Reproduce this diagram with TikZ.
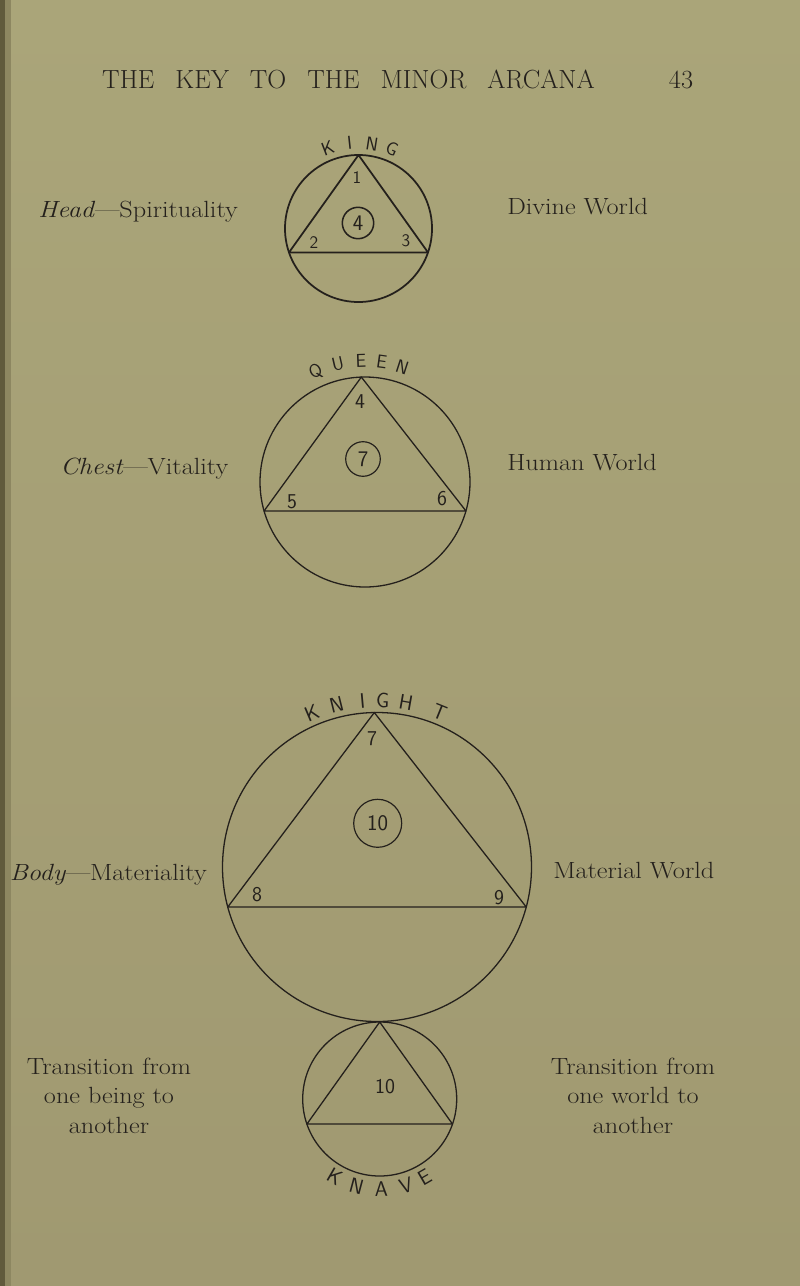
\documentclass[tikz,border=0pt]{standalone}
\usetikzlibrary{calc}
\definecolor{paper}{RGB}{170,165,121}
\definecolor{paperlow}{RGB}{160,153,113}
\definecolor{ink}{RGB}{36,32,28}
\definecolor{spine}{RGB}{96,90,60}
\tikzset{
  disc/.style={circle, draw=ink, line width=1.1pt, inner sep=0pt, outer sep=0pt, minimum size=#1*0.6mm},
  ring/.style={circle, draw=ink, line width=1pt, inner sep=0pt, minimum size=#1*0.6mm, text=ink, font=\sffamily\fontsize{19}{19}\selectfont},
  hand/.style={text=ink, inner sep=0pt, font=\sffamily\fontsize{18}{18}\selectfont},
  txt/.style={text=ink, inner sep=0pt, font=\fontsize{20}{25}\selectfont, xscale=1.12},
  runhead/.style={text=ink, inner sep=0pt, font=\fontsize{22.4}{24}\selectfont},
  tri/.style={draw=ink, line width=1.1pt, line join=round}
}
\begin{document}
\begin{tikzpicture}[x=0.3mm, y=0.3mm]
\useasboundingbox (0,0) rectangle (800,-1286);
\shade[top color=paper, bottom color=paperlow] (0,0) rectangle (800,-1286);
\fill[spine] (0,0) rectangle (5,-1286);
\fill[spine!40!paper] (5,0) rectangle (11,-1286);

\node[runhead, anchor=base west] (title) at (102,-88)
  {THE\hspace{0.8em}KEY\hspace{0.8em}TO\hspace{0.8em}THE\hspace{0.8em}MINOR\hspace{0.8em}ARCANA};
\node[runhead, anchor=base] (folio) at (681,-88) {43};

% king
\node[disc=73.5, line width=1.5pt] (king) at (358.5,-228.5) {};
\draw[tri, line width=1.5pt] (king.90) -- (king.199.5) -- (king.-19.5) -- cycle;
\node[ring=15.7, line width=1.3pt] (kingsum) at (358,-223) {4};
\node[hand, font=\sffamily\fontsize{15}{15}\selectfont] (king1) at (357,-178) {1};
\node[hand, font=\sffamily\fontsize{15}{15}\selectfont] (king2) at (314,-243) {2};
\node[hand, font=\sffamily\fontsize{15}{15}\selectfont] (king3) at (406,-241) {3};
\foreach \ch/\a [count=\i] in {K/111,I/96,N/81,G/67}
  \node[hand, font=\sffamily\fontsize{16}{16}\selectfont, rotate=\a-90] (kingl\i) at ($(king)+(\a:86)$) {\ch};

% queen
\node[disc=105] (queen) at (365,-482) {};
\draw[tri] (queen.92) -- (queen.196) -- (queen.-16) -- cycle;
\node[ring=17.3] (queensum) at (363,-459) {7};
\node[hand] (queen4) at (360,-402) {4};
\node[hand] (queen5) at (292,-502) {5};
\node[hand] (queen6) at (442,-499) {6};
\foreach \ch/\a [count=\i] in {Q/114,U/103,E/92,E/82,N/72}
  \node[hand, font=\sffamily\fontsize{16}{16}\selectfont, rotate=\a-90] (queenl\i) at ($(queen)+(\a:121)$) {\ch};

% knight
\node[disc=154.5] (knight) at (377,-867) {};
\draw[tri] (knight.91.5) -- (knight.195.8) -- (knight.-15.8) -- cycle;
\node[ring=24] (knightsum) at (377.7,-823.3) {10};
\node[hand] (knight7) at (372,-739) {7};
\node[hand] (knight8) at (257,-895) {8};
\node[hand] (knight9) at (499,-898) {9};
\foreach \ch/\a [count=\i] in {K/113,N/104,I/95,G/88,H/80,T/68}
  \node[hand, rotate=\a-90] (knightl\i) at ($(knight)+(\a:167)$) {\ch};

% knave
\node[disc=77] (knave) at (379.7,-1099) {};
\draw[tri] (knave.90) -- (knave.199.3) -- (knave.-19.3) -- cycle;
\node[hand] (knavesum) at (385,-1087) {10};
\foreach \ch/\a [count=\i] in {K/240,N/255,A/271,V/287,E/300}
  \node[hand, rotate=\a+90] (knavel\i) at ($(knave)+(\a:90)$) {\ch};

\node[txt, anchor=base west] (headtxt) at (38,-217) {\textit{Head}---Spirituality};
\node[txt, anchor=base west] (divine) at (507,-214) {Divine World};
\node[txt, anchor=base west] (chest) at (60,-474) {\textit{Chest}---Vitality};
\node[txt, anchor=base west] (human) at (507,-470) {Human World};
\node[txt, anchor=base east] (body) at (207,-880) {\textit{Body}---Materiality};
\node[txt, anchor=base west] (material) at (553,-878) {Material World};
\node[txt, align=center, anchor=north] (being) at (109,-1058) {Transition from\\one being to\\another};
\node[txt, align=center, anchor=north] (world) at (633,-1058) {Transition from\\one world to\\another};
\end{tikzpicture}
\end{document}
